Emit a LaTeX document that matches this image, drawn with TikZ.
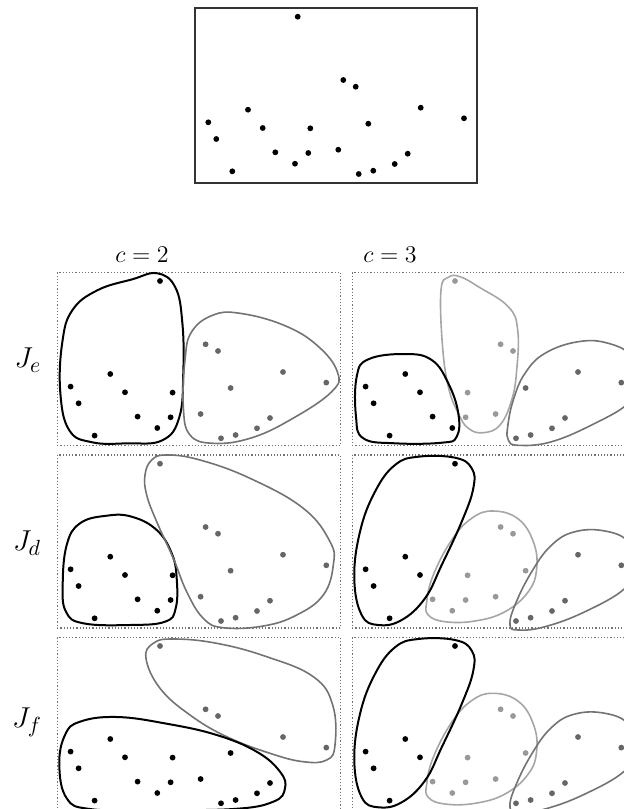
\documentclass[tikz,border=0pt]{standalone}
\usetikzlibrary{positioning}

\newcommand{\dotlist}{1/102.7/8.7, 2/148.3/72, 3/160.7/78.7, 4/53/101.7,
  5/225.7/99.7, 6/269/110.3, 7/13.3/114.3, 8/67.7/120, 9/115.3/120.3,
  10/173.3/115.7, 11/21.3/131, 12/80.3/144.3, 13/113.3/145, 14/143.3/141.7,
  15/212.7/145.7, 16/100/155.7, 17/199.7/156, 18/37.3/163.3, 19/163.7/166,
  20/178.3/162.7}
\newcommand{\placedots}{\foreach \i/\x/\y in \dotlist {\coordinate (p\i) at (\x,\y);}}
\newcommand{\colourdots}[2]{\foreach \i in {#2} {\fill[#1] (p\i) circle (2.9);}}

\tikzset{
  panel/.style={draw=black!55, densely dotted, line width=0.6pt},
  topbox/.style={draw=black!80, line width=0.8pt},
  setA/.style={draw=black, line width=1pt},
  setB/.style={draw=black!55, line width=0.8pt},
  setC/.style={draw=black!35, line width=0.8pt},
  rowlabel/.style={font=\fontsize{15}{18}\selectfont},
  collabel/.style={font=\fontsize{13}{16}\selectfont}
}

\newcommand{\splitthree}{%
  \draw[panel] (0,0) rectangle (283,173);
  \placedots
  \draw[setC] plot[smooth cycle, tension=0.7] coordinates {(74.4,146.7) (81,120)
    (99.4,85) (119.4,63.3) (141,56) (166,64) (181,86.7) (184.4,113.3) (176,136.7)
    (152.7,156.7) (122.7,166) (92.7,166.7) (76,160)};
  \draw[setB] plot[smooth cycle, tension=0.7] coordinates {(157.7,170) (162.7,150)
    (179.4,116.7) (199.4,90) (222.7,76.7) (252.7,76) (276,86.7) (284.4,110)
    (272.7,133.3) (232.7,156.7) (192.7,171.7) (166,175)};
  \draw[setA] plot[smooth cycle, tension=0.7] coordinates {(2,123.3) (7.7,76.7)
    (22.7,36.7) (42.7,10) (66,1.7) (102.7,2.7) (119.4,13.3) (121,33.3) (109.4,66.7)
    (89.4,110) (72.7,143.3) (49.4,165) (26,170) (9.4,160)};
  \colourdots{black}{1,4,7,8,11,18}
  \colourdots{black!40}{2,3,9,10,12,13,14,16}
  \colourdots{black!60}{5,6,15,17,19,20}
}

\begin{document}
\begin{tikzpicture}[x=0.5pt, y=-0.5pt]
\useasboundingbox (0,0) rectangle (624,809);
\clip (0,0) rectangle (624,809);

\begin{scope}[shift={(195,8)}]
  \draw[topbox] (0,0) rectangle (282,175);
  \placedots
  \colourdots{black}{1,...,20}
\end{scope}

\node[collabel] (ctwo) at (142,255) {$c=2$};
\node[collabel] (cthree) at (390,255) {$c=3$};

\node[rowlabel] (je) at (28,360) {$J_e$};
\node[rowlabel] (jd) at (27,543) {$J_d$};
\node[rowlabel] (jf) at (27,722) {$J_f$};

\begin{scope}[shift={(57.3,272.3)}]
  \draw[panel] (0,0) rectangle (283,173);
  \placedots
  \draw[setA] plot[smooth cycle, tension=0.7] coordinates {(3,120) (5,70)
    (15,38) (40,18) (75,7) (100,1) (118,15) (125,50) (126,100) (122,145)
    (105,168) (70,171) (35,170) (12,158)};
  \draw[setB] plot[smooth cycle, tension=0.7] coordinates {(127.7,87.7) (134.4,59.4)
    (156,42.7) (182.7,41) (226,52.7) (259.4,72.7) (280,99.4) (274.4,119.4)
    (232.7,147.7) (192.7,166) (156,171) (132.7,162.7) (126,134.4)};
  \colourdots{black}{1,4,7,8,9,11,12,13,16,18}
  \colourdots{black!60}{2,3,5,6,10,14,15,17,19,20}
\end{scope}

\begin{scope}[shift={(352.3,272.3)}]
  \draw[panel] (0,0) rectangle (283,173);
  \placedots
  \draw[setC] plot[smooth cycle, tension=0.7] coordinates {(88.7,17.7) (96,5)
    (107.7,4.4) (126,14.4) (156,34.4) (165.4,57.7) (164.4,97.7) (159.4,127.7)
    (147.7,152.7) (131,160.4) (116,156) (106,141) (96,114.4) (90,71)};
  \draw[setB] plot[smooth cycle, tension=0.7] coordinates {(155.4,154.4) (161,127.7)
    (172.7,101) (192.7,81) (226,69.4) (256,71) (279.4,84.4) (286,111) (276,131)
    (242.7,151) (199.4,169.4) (166,173) (156,167.7)};
  \draw[setA] plot[smooth cycle, tension=0.7] coordinates {(4.4,104.4) (16,87)
    (52.7,81.7) (79.4,87.7) (96,111) (106,141) (104.4,164.4) (89.4,170.4)
    (42.7,171) (11,166) (3.7,144.4)};
  \colourdots{black}{4,7,8,11,12,16,18}
  \colourdots{black!40}{1,2,3,9,13,14}
  \colourdots{black!60}{5,6,10,15,17,19,20}
\end{scope}

\begin{scope}[shift={(57.3,455)}]
  \draw[panel] (0,0) rectangle (283,173);
  \placedots
  \draw[setA] plot[smooth cycle, tension=0.7] coordinates {(5.4,130) (9.4,90)
    (22.7,68.3) (49.4,60.7) (74.4,61.7) (99.4,75) (114.4,98.3) (119.4,123.3)
    (118.4,153.3) (107.7,166.7) (72.7,170) (26,168.3) (8.7,156.7)};
  \draw[setB] plot[smooth cycle, tension=0.7] coordinates {(87.7,20) (94.4,5)
    (109.4,0) (142.7,5) (192.7,23.3) (246,53.3) (272.7,86.7) (276,110) (266,140)
    (239.4,160) (206,171) (166,172.7) (146,163.3) (129.4,136.7) (116,103.3)
    (99.4,66.7) (89.4,40)};
  \colourdots{black}{4,7,8,9,11,12,13,16,18}
  \colourdots{black!60}{1,2,3,5,6,10,14,15,17,19,20}
\end{scope}

\begin{scope}[shift={(352.3,455)}]
  \splitthree
\end{scope}

\begin{scope}[shift={(57.3,637.3)}]
  \draw[panel] (0,0) rectangle (283,173);
  \placedots
  \draw[setB] plot[smooth cycle, tension=0.7] coordinates {(88.7,21) (96,6)
    (116,1.7) (159.4,6) (209.4,19.4) (256,39.4) (275.4,67.7) (277.7,107.7)
    (269.4,122.7) (246,124.4) (212.7,116) (169.4,99.4) (132.7,77.7) (102.7,51)};
  \draw[setA] plot[smooth cycle, tension=0.7] coordinates {(2,127.7) (7.7,97.7)
    (22.7,84.4) (59.4,79.7) (109.4,86.4) (159.4,97.7) (199.4,114.4) (222.7,134.4)
    (227.7,151) (216,164.4) (176,171.7) (92.7,172.7) (32.7,171.7) (9.4,161)};
  \colourdots{black}{4,7,8,9,10,11,12,13,14,15,16,17,18,19,20}
  \colourdots{black!60}{1,2,3,5,6}
\end{scope}

\begin{scope}[shift={(352.3,637.3)}]
  \splitthree
\end{scope}
\end{tikzpicture}
\end{document}
